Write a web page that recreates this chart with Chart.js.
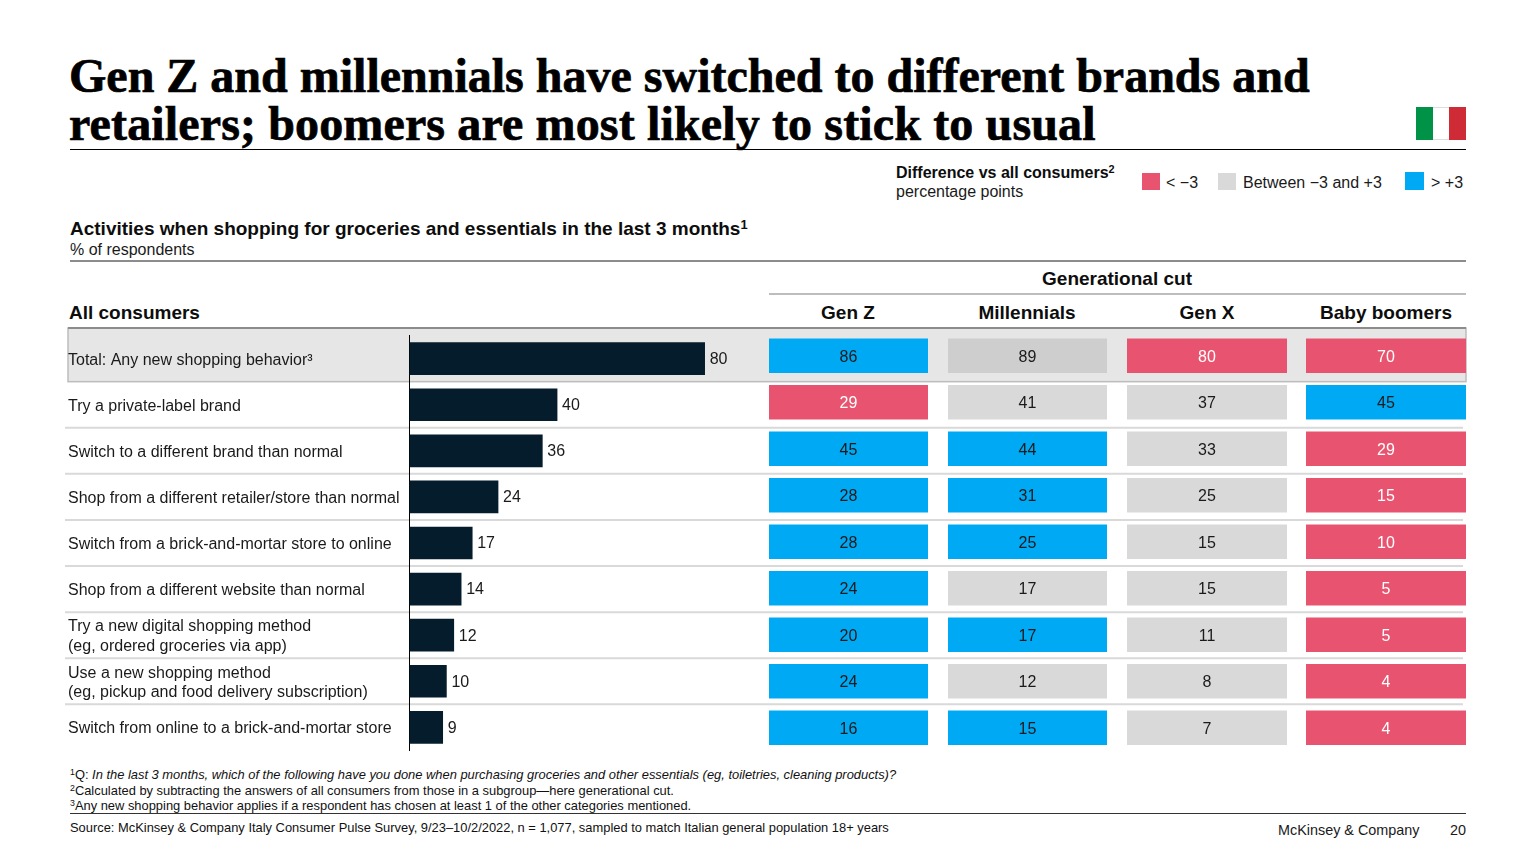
<!DOCTYPE html>
<html>
  <head>
    <meta charset="utf-8" />
    <script src="https://cdn.jsdelivr.net/npm/chart.js@4"></script>
    <style>
      html, body { margin: 0; padding: 0; background: #fff; }
      body { position: relative; width: 1536px; height: 864px; overflow: hidden;
        font-family: "Liberation Sans", Arial, sans-serif; color: #1a1a1a; }
      .t { position: absolute; white-space: nowrap; font-size: 16px; line-height: 20px; }
      .b { font-weight: bold; color: #0d0d0d; }
      .h { font-size: 19px; }
      .c { transform: translateX(-50%); }
      .title { font-family: "Liberation Serif", serif; font-weight: bold; font-size: 48px;
        line-height: 48px; color: #000; -webkit-text-stroke: 0.7px #000; }
      .note { font-size: 12.9px; line-height: 15px; color: #111; }
      .rule, .box { position: absolute; }
      sup { font-size: 0.68em; line-height: 0; vertical-align: baseline; position: relative; top: -0.5em; }
      canvas { position: absolute; }
    </style>
  </head>
  <body>
    <div class="t title" style="left: 69px; top: 52px">Gen Z and millennials have switched to different brands and<br /><span style="letter-spacing: 0.14px">retailers; boomers are most likely to stick to usual</span></div>
    <div class="box" style="left: 1416px; top: 107px; width: 17px; height: 33px; background: #009246"></div>
    <div class="box" style="left: 1433px; top: 107px; width: 16px; height: 31px; background: #fff; border-top: 1px solid #ddd; border-bottom: 1px solid #ddd"></div>
    <div class="box" style="left: 1449px; top: 107px; width: 17px; height: 33px; background: #ce2b37"></div>
    <div class="rule" style="left: 70px; top: 149px; width: 1396px; height: 1px; background: #000"></div>

    <div class="t b" style="left: 896px; top: 163px">Difference vs all consumers<sup>2</sup></div>
    <div class="t" style="left: 896px; top: 182px">percentage points</div>
    <div class="box" style="left: 1142px; top: 173px; width: 18px; height: 17px; background: #e8546f"></div>
    <div class="t" style="left: 1166px; top: 173px">&lt; −3</div>
    <div class="box" style="left: 1218px; top: 173px; width: 18px; height: 17px; background: #d9d9d9"></div>
    <div class="t" style="left: 1243px; top: 173px">Between −3 and +3</div>
    <div class="box" style="left: 1405px; top: 172px; width: 19px; height: 18px; background: #00a9f4"></div>
    <div class="t" style="left: 1431px; top: 173px">&gt; +3</div>

    <div class="t b h" style="left: 70px; top: 219px">Activities when shopping for groceries and essentials in the last 3 months<sup>1</sup></div>
    <div class="t" style="left: 70px; top: 240px">% of respondents</div>
    <div class="rule" style="left: 70px; top: 260px; width: 1396px; height: 2px; background: #8c8c8c"></div>

    <div class="t b c h" style="left: 1117px; top: 269px">Generational cut</div>
    <div class="rule" style="left: 769px; top: 293px; width: 697px; height: 2px; background: #bdbdbd"></div>
    <div class="t b h" style="left: 69px; top: 303px">All consumers</div>
    <div class="t b c h" style="left: 848px; top: 303px">Gen Z</div>
    <div class="t b c h" style="left: 1027px; top: 303px">Millennials</div>
    <div class="t b c h" style="left: 1207px; top: 303px">Gen X</div>
    <div class="t b c h" style="left: 1386px; top: 303px">Baby boomers</div>

    <canvas id="allChart" width="1536" height="434" style="left: 0; top: 326px"></canvas>
    <canvas id="genZChart" width="159" height="434" style="left: 769px; top: 326px"></canvas>
    <canvas id="millChart" width="159" height="434" style="left: 948px; top: 326px"></canvas>
    <canvas id="genXChart" width="160" height="434" style="left: 1127px; top: 326px"></canvas>
    <canvas id="boomerChart" width="160" height="434" style="left: 1306px; top: 326px"></canvas>

    <div class="t note" style="left: 70px; top: 767px"><sup>1</sup>Q: <i>In the last 3 months, which of the following have you done when purchasing groceries and other essentials (eg, toiletries, cleaning products)?</i></div>
    <div class="t note" style="left: 70px; top: 783px"><sup>2</sup>Calculated by subtracting the answers of all consumers from those in a subgroup—here generational cut.</div>
    <div class="t note" style="left: 70px; top: 798px"><sup>3</sup>Any new shopping behavior applies if a respondent has chosen at least 1 of the other categories mentioned.</div>
    <div class="rule" style="left: 70px; top: 813px; width: 1396px; height: 1px; background: #333"></div>
    <div class="t note" style="left: 70px; top: 820px">Source: McKinsey &amp; Company Italy Consumer Pulse Survey, 9/23–10/2/2022, n = 1,077, sampled to match Italian general population 18+ years</div>
    <div class="t" style="left: 1278px; top: 820px; font-size: 14.4px">McKinsey &amp; Company</div>
    <div class="t" style="left: 1450px; top: 820px; font-size: 14.4px">20</div>

    <script type="text/javascript">
      const categories = [
        "Total: Any new shopping behavior³",
        "Try a private-label brand",
        "Switch to a different brand than normal",
        "Shop from a different retailer/store than normal",
        "Switch from a brick-and-mortar store to online",
        "Shop from a different website than normal",
        ["Try a new digital shopping method", "(eg, ordered groceries via app)"],
        ["Use a new shopping method", "(eg, pickup and food delivery subscription)"],
        "Switch from online to a brick-and-mortar store",
      ];
      const allConsumers = [80, 40, 36, 24, 17, 14, 12, 10, 9];
      const genZ = [86, 29, 45, 28, 28, 24, 20, 24, 16];
      const millennials = [89, 41, 44, 31, 25, 17, 17, 12, 15];
      const genX = [80, 37, 33, 25, 15, 15, 11, 8, 7];
      const boomers = [70, 45, 29, 15, 10, 5, 5, 4, 4];
      // band as coloured in the picture: -1 is "< -3", 0 is between, 1 is "> +3"
      const genZBands = [1, -1, 1, 1, 1, 1, 1, 1, 1];
      const millennialBands = [0, 0, 1, 1, 1, 0, 1, 0, 1];
      const genXBands = [-1, 0, 0, 0, 0, 0, 0, 0, 0];
      const boomerBands = [-1, 1, -1, -1, -1, -1, -1, -1, -1];

      const RED = "#e8546f";
      const GREY = "#d9d9d9";
      const BLUE = "#00a9f4";
      const FONT = '16px "Liberation Sans", Arial, sans-serif';

      // total row band and the row separators, drawn behind everything
      const rowLines = {
        id: "rowLines",
        beforeDraw(chart) {
          const { ctx } = chart;
          const y = chart.scales.y;
          const edge = (i) => (y.getPixelForValue(i) + y.getPixelForValue(i + 1)) / 2;
          // the canvas starts at y=326 on the page
          const bandTop = 2;
          const bandBottom = edge(0);
          ctx.save();
          ctx.fillStyle = "#e6e6e6";
          ctx.fillRect(68, bandTop, 1398, bandBottom - bandTop);
          ctx.strokeStyle = "#bdbdbd";
          ctx.lineWidth = 1.5;
          ctx.strokeRect(68, bandTop, 1398, bandBottom - bandTop);
          ctx.fillStyle = "#8c8c8c";
          ctx.fillRect(68, bandTop - 1, 1398, 2);
          ctx.strokeStyle = GREY;
          ctx.lineWidth = 2;
          for (let i = 1; i < categories.length - 1; i++) {
            ctx.beginPath();
            ctx.moveTo(65, edge(i));
            ctx.lineTo(1463, edge(i));
            ctx.stroke();
          }
          ctx.restore();
        },
      };

      const valueLabels = {
        id: "valueLabels",
        afterDatasetsDraw(chart, args, opts) {
          const { ctx } = chart;
          const meta = chart.getDatasetMeta(0);
          const data = chart.data.datasets[0].data;
          ctx.save();
          ctx.font = FONT;
          ctx.textBaseline = "middle";
          meta.data.forEach((bar, i) => {
            if (opts.outside) {
              ctx.textAlign = "left";
              ctx.fillStyle = "#1a1a1a";
              ctx.fillText(data[i], bar.x + 5, bar.y + 1);
            } else {
              ctx.textAlign = "center";
              ctx.fillStyle = opts.bands[i] < 0 ? "#fff" : "#1a1a1a";
              ctx.fillText(data[i], chart.width / 2, bar.y + 1.5);
            }
          });
          ctx.restore();
        },
      };

      new Chart(document.getElementById("allChart"), {
        type: "bar",
        data: {
          labels: categories,
          datasets: [{ data: allConsumers, backgroundColor: "#051c2c", barThickness: 32 }],
        },
        plugins: [rowLines, valueLabels],
        options: {
          indexAxis: "y",
          responsive: false,
          animation: false,
          layout: { padding: { top: 8, bottom: 8, left: 68, right: 776 } },
          plugins: { legend: { display: false }, tooltip: { enabled: false }, valueLabels: { outside: true } },
          scales: {
            x: { min: 0, max: 95, display: false },
            y: {
              afterFit(scale) {
                scale.width = 341.5;
              },
              grid: { display: false, drawTicks: false },
              border: { color: "#000", width: 1 },
              ticks: {
                autoSkip: false,
                crossAlign: "far",
                padding: 0,
                labelOffset: 1.5,
                color: "#1a1a1a",
                font: { family: '"Liberation Sans", Arial, sans-serif', size: 16 },
              },
            },
          },
        },
      });

      function heatColumn(id, values, bands) {
        new Chart(document.getElementById(id), {
          type: "bar",
          data: {
            labels: categories,
            datasets: [
              {
                data: values,
                barThickness: 34,
                backgroundColor: bands.map((b, i) =>
                  b < 0 ? RED : b > 0 ? BLUE : i === 0 ? "#cecece" : GREY
                ),
              },
            ],
          },
          plugins: [valueLabels],
          options: {
            indexAxis: "y",
            responsive: false,
            animation: false,
            layout: { padding: { top: 6.5, bottom: 9 } },
            plugins: { legend: { display: false }, tooltip: { enabled: false }, valueLabels: { outside: false, bands } },
            scales: {
              // max of 1: every bar runs past it and is clipped, so cells fill the column
              x: { min: 0, max: 1, display: false },
              y: { display: false },
            },
          },
        });
      }

      heatColumn("genZChart", genZ, genZBands);
      heatColumn("millChart", millennials, millennialBands);
      heatColumn("genXChart", genX, genXBands);
      heatColumn("boomerChart", boomers, boomerBands);
    </script>
  </body>
</html>
